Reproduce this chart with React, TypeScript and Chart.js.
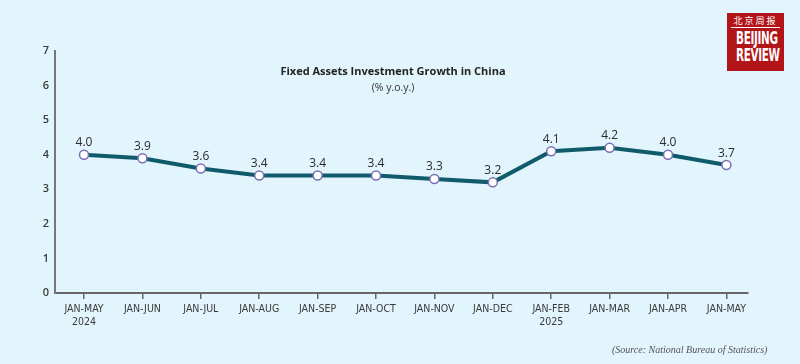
import React, { useEffect, useRef } from "react";
import { Chart, registerables } from "chart.js";

Chart.register(...registerables);

const categories: string[][] = [
  ["JAN-MAY", "2024"], ["JAN-JUN"], ["JAN-JUL"], ["JAN-AUG"], ["JAN-SEP"], ["JAN-OCT"],
  ["JAN-NOV"], ["JAN-DEC"], ["JAN-FEB", "2025"], ["JAN-MAR"], ["JAN-APR"], ["JAN-MAY"],
];
const growth: number[] = [4.0, 3.9, 3.6, 3.4, 3.4, 3.4, 3.3, 3.2, 4.1, 4.2, 4.0, 3.7];
const yTicks: number[] = [0, 1, 2, 3, 4, 5, 6, 7];

const BG = "#e2f4fc";
const LINE = "#0f5b6b";

const labelPlugin = {
  id: "valueLabels",
  afterDatasetsDraw(chart: any) {
    const ctx = chart.ctx;
    const meta = chart.getDatasetMeta(0);
    ctx.save();
    ctx.font = "12px 'Open Sans', sans-serif";
    ctx.fillStyle = "#2a2a2a";
    ctx.textAlign = "center";
    ctx.textBaseline = "bottom";
    meta.data.forEach((pt: any, i: number) => {
      ctx.fillText(growth[i].toFixed(1), pt.x, pt.y - 6);
    });
    ctx.restore();
  },
};

export default function App() {
  const ref = useRef<HTMLCanvasElement>(null);
  useEffect(() => {
    document.body.style.margin = "0";
    document.body.style.background = BG;
    const chart = new Chart(ref.current!, {
      type: "line",
      data: {
        datasets: [
          {
            data: growth.map((v, i) => ({ x: i, y: v })),
            borderColor: LINE,
            borderWidth: 4,
            pointRadius: 4.5,
            pointBackgroundColor: "#ffffff",
            pointBorderColor: "#7b6fb3",
            pointBorderWidth: 1.5,
            tension: 0,
          },
        ],
      },
      options: {
        animation: false,
        responsive: false,
        layout: { padding: { left: 0, right: 52, top: 51, bottom: 0 } },
        plugins: { legend: { display: false }, tooltip: { enabled: false }, title: { display: false } },
        scales: {
          x: {
            type: "linear",
            min: -0.497,
            max: 11.37,
            afterBuildTicks: (s: any) => {
              s.ticks = categories.map((_, i) => ({ value: i }));
            },
            afterFit: (s: any) => {
              s.height = 71;
            },
            ticks: {
              autoSkip: false,
              maxRotation: 0,
              padding: 4,
              color: "#3a3a3a",
              font: { family: "'DejaVu Sans Condensed', 'Liberation Sans Narrow', sans-serif", size: 10.5 },
              callback: (v: any) => categories[v as number] ?? "",
            },
            grid: {
              drawOnChartArea: false,
              drawTicks: true,
              tickLength: 6,
              color: "#666",
              lineWidth: 1.5,
            },
            border: { display: true, color: "#666", width: 2 },
          },
          y: {
            min: 0,
            max: 7,
            afterBuildTicks: (s: any) => {
              s.ticks = yTicks.map((v) => ({ value: v }));
            },
            afterFit: (s: any) => {
              s.width = 55;
            },
            ticks: {
              padding: 6,
              color: "#3a3a3a",
              font: { family: "'Open Sans', sans-serif", size: 11, weight: 600 },
            },
            grid: { display: false, drawTicks: false },
            border: { display: true, color: "#777", width: 2 },
          },
        },
      },
      plugins: [labelPlugin],
    });
    return () => chart.destroy();
  }, []);

  return (
    <div style={{ position: "relative", width: 800, height: 364, background: BG, overflow: "hidden" }}>
      <canvas ref={ref} width={800} height={364} style={{ display: "block" }} />
      <div
        style={{
          position: "absolute",
          left: 0,
          width: 786,
          top: 63,
          textAlign: "center",
          fontFamily: "'Open Sans', sans-serif",
          fontWeight: 700,
          fontSize: 11,
          color: "#222",
        }}
      >
        Fixed Assets Investment Growth in China
      </div>
      <div
        style={{
          position: "absolute",
          left: 0,
          width: 786,
          top: 80,
          textAlign: "center",
          fontFamily: "'Open Sans', sans-serif",
          fontSize: 10.5,
          color: "#333",
        }}
      >
        (% y.o.y.)
      </div>
      <div
        style={{
          position: "absolute",
          left: 727,
          top: 13,
          width: 57,
          height: 58,
          background: "#b3141a",
          color: "#fff",
          textAlign: "center",
          fontFamily: "'Liberation Sans Narrow', 'DejaVu Sans Condensed', sans-serif",
          fontWeight: 700,
          lineHeight: 1,
          overflow: "hidden",
        }}
      >
        <div style={{ fontSize: 9, fontFamily: "'Noto Sans CJK SC', sans-serif", fontWeight: 400, marginTop: 3, letterSpacing: 2 }}>
          北京周报
        </div>
        <div style={{ height: 1, background: "#fff", margin: "2px 4px 2px" }} />
        <div style={{ fontSize: 17, transform: "scaleX(0.68)", whiteSpace: "nowrap", letterSpacing: -0.5 }}>BEIJING</div>
        <div style={{ fontSize: 17, transform: "scaleX(0.68)", whiteSpace: "nowrap", letterSpacing: -0.5 }}>REVIEW</div>
      </div>
      <div
        style={{
          position: "absolute",
          left: 612,
          top: 344,
          fontFamily: "'Liberation Serif', serif",
          fontStyle: "italic",
          fontSize: 10,
          color: "#555",
        }}
      >
        (Source: National Bureau of Statistics)
      </div>
    </div>
  );
}
